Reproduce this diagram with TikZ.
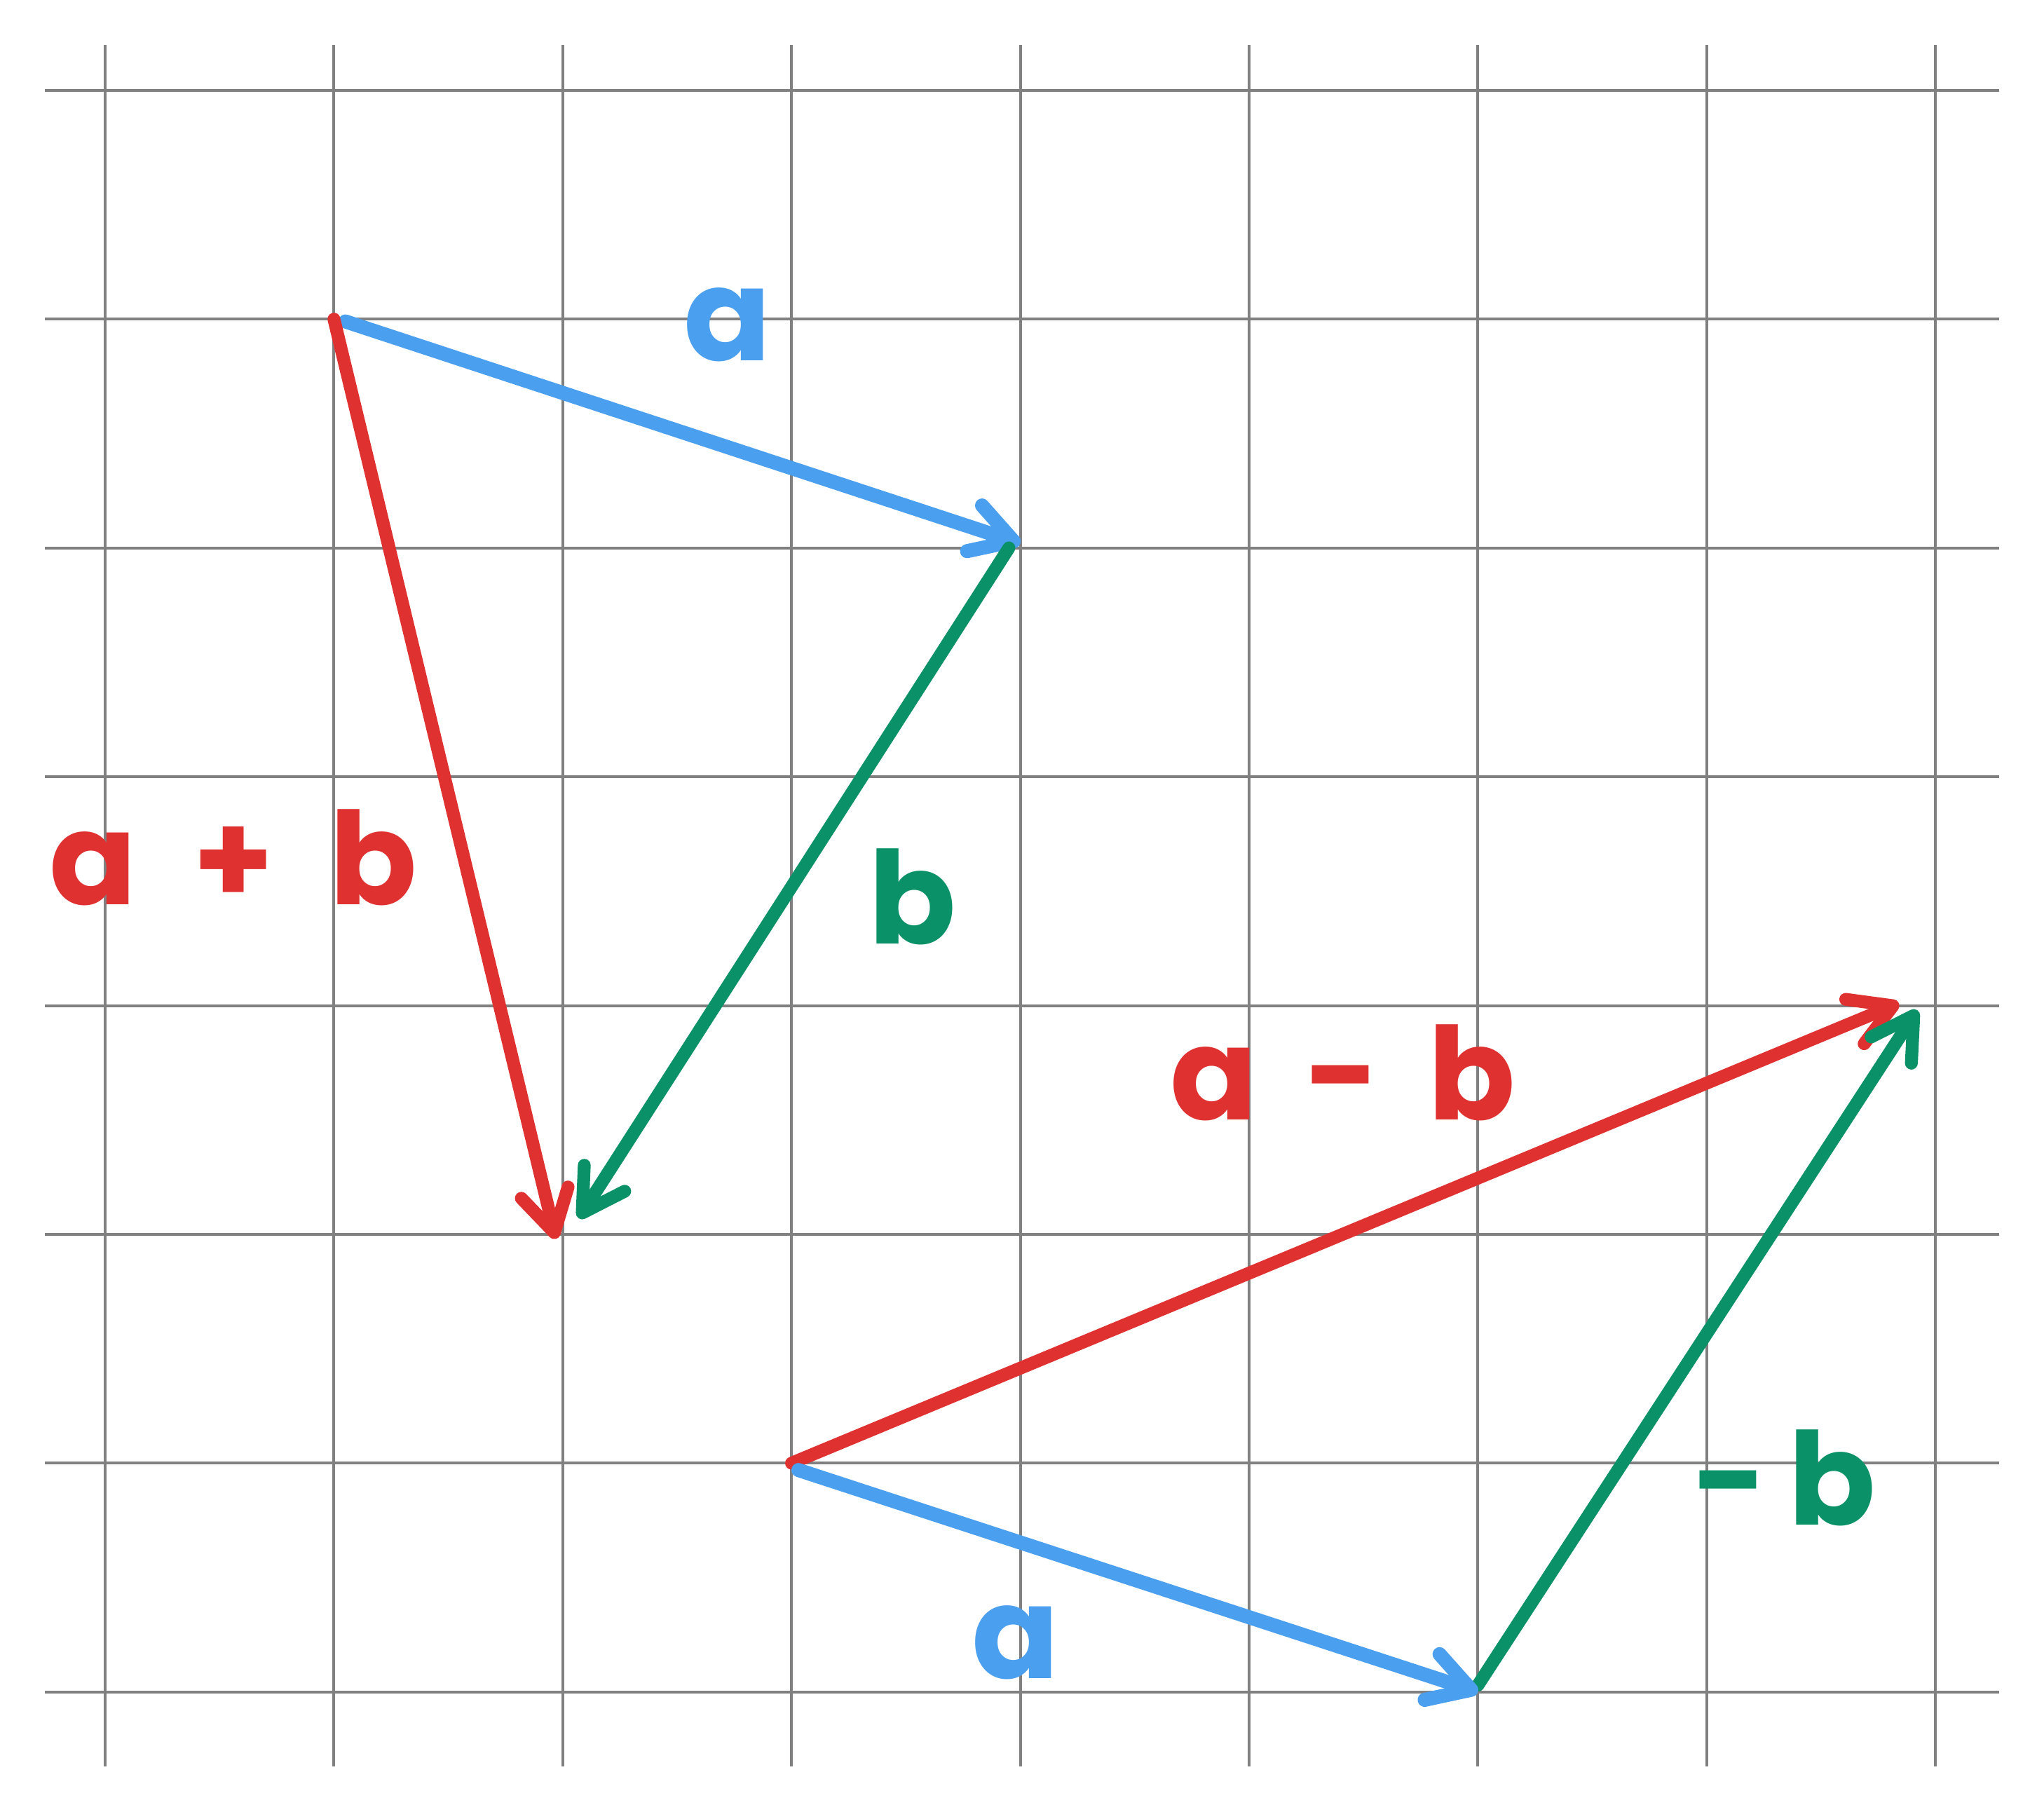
\documentclass[tikz,border=0pt]{standalone}
\usepackage{fontspec}
\setmainfont{Poppins}
\usetikzlibrary{arrows.meta}
\definecolor{vred}{HTML}{E03131}
\definecolor{vblue}{HTML}{4A9FEF}
\definecolor{vgreen}{HTML}{0B9168}
\tikzstyle{gridline}=[black!50, line width=0.35pt]
\tikzstyle{arrowline}=[line width=1.6pt, line cap=round, -{Straight Barb[length=1.8mm,width=2.1mm,round]}]
\tikzstyle{handtext}=[font=\fontsize{16}{19}\selectfont\bfseries, inner sep=0pt, anchor=base]

\begin{document}
\begin{tikzpicture}[x=1cm,y=1cm]

  \useasboundingbox (-0.4596,-0.522) rectangle (8.474,7.395);

  % grid
  \foreach \i in {0,...,8}
      \draw[gridline] (\i,-0.325) -- (\i,7.199);
  \foreach \j in {0,...,7}
      \draw[gridline] (-0.263,\j) -- (8.278,\j);

  % top triangle: a + b
  \foreach \name/\x/\y in {P/1.0/6.0, Pa/1.05/5.99, Q/4.0/5.02, Qb/3.95/5.0, R/1.97/1.98, Rb/2.07/2.07}
      \coordinate (\name) at (\x,\y);

  \draw[arrowline, vblue, line width=1.75pt] (Pa) -- (Q);
  \draw[arrowline, vgreen] (Qb) -- (Rb);
  \draw[arrowline, vred] (P) -- (R);

  % bottom triangle: a - b
  \foreach \name/\x/\y in {U/3.0/1.0, Ua/3.03/0.97, V/6.0/0.0, Vb/6.0/0.03, W/7.84/3.01, Wb/7.92/2.98}
      \coordinate (\name) at (\x,\y);

  \draw[arrowline, vred] (U) -- (W);
  \draw[arrowline, vgreen] (Vb) -- (Wb);
  \draw[arrowline, vblue, line width=1.75pt] (Ua) -- (V);

  % labels
  \node[handtext, vblue] (atop) at (2.72,5.82) {a};
  \node[handtext, vred] (apb) at (0.56,3.44) {a\hspace{0.245cm}+\hspace{0.245cm}b};
  \node[handtext, vgreen] (btop) at (3.53,3.27) {b};
  \node[handtext, vred] (amb) at (5.41,2.50) {a\hspace{0.21cm}-\hspace{0.21cm}b};
  \node[handtext, vgreen] (mb) at (7.34,0.73) {-\,b};
  \node[handtext, vblue] (abot) at (3.98,0.06) {a};

\end{tikzpicture}
\end{document}
